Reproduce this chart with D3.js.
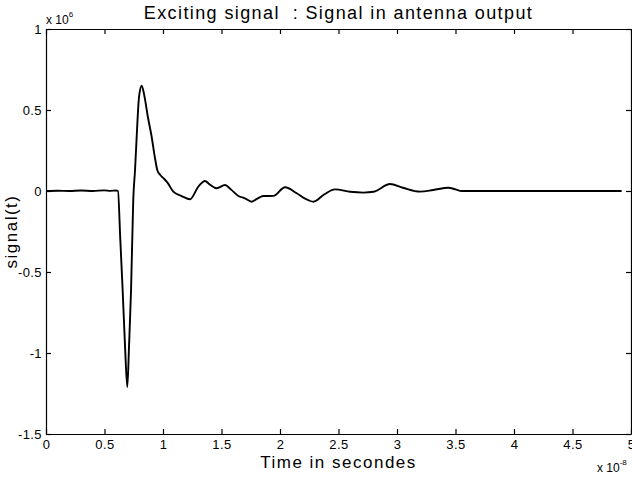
<!DOCTYPE html>
<html>
<head>
<meta charset="utf-8">
<script src="https://cdn.jsdelivr.net/npm/d3@7/dist/d3.min.js"></script>
<style>
  html, body { margin: 0; padding: 0; background: #fff; }
  svg { display: block; }
  text { font-family: Arial, "Liberation Sans", Helvetica, sans-serif; fill: #000; }
</style>
</head>
<body>
<div id="chart"></div>
<script>
// time in units of 1e-8 s, signal in units of 1e6
var timeVals = [0, 0.1, 0.2, 0.3, 0.4, 0.5, 0.55, 0.6, 0.615, 0.635, 0.655, 0.675, 0.695,
    0.71, 0.727, 0.746, 0.761, 0.775, 0.795, 0.818, 0.84, 0.87, 0.903, 0.93, 0.951, 0.975,
    1.003, 1.04, 1.088, 1.16, 1.231, 1.302, 1.359, 1.40, 1.459, 1.53, 1.58, 1.644, 1.70,
    1.758, 1.81, 1.857, 1.943, 2.043, 2.143, 2.21, 2.285, 2.38, 2.47, 2.6, 2.712, 2.8,
    2.94, 3.05, 3.197, 3.31, 3.439, 3.50, 3.553, 4.92];
var signalVals = [0, 0.002, 0, 0.003, 0, 0.004, 0.001, 0.003, 0, -0.3, -0.61, -0.95, -1.21,
    -0.95, -0.61, -0.05, 0.13, 0.335, 0.58, 0.65, 0.59, 0.46, 0.335, 0.21, 0.13, 0.1,
    0.08, 0.05, -0.004, -0.031, -0.051, 0.027, 0.062, 0.04, 0.017, 0.037, 0.01, -0.031, -0.045,
    -0.066, -0.045, -0.031, -0.03, 0.023, -0.014, -0.045, -0.066, -0.02, 0.01, -0.005, -0.01, -0.005,
    0.043, 0.02, -0.004, 0.006, 0.02, 0.01, 0, 0];

var xTicks = [0, 0.5, 1, 1.5, 2, 2.5, 3, 3.5, 4, 4.5, 5];
var yTicks = [1, 0.5, 0, -0.5, -1, -1.5];

var W = 632, H = 478;
var x0 = 46, x1 = 631, y0 = 29, y1 = 434;
var tickLen = 5;

var svg = d3.select('#chart').append('svg')
    .attr('width', W).attr('height', H);

var x = d3.scaleLinear().domain([0, 5]).range([x0, x1]);
var y = d3.scaleLinear().domain([-1.5, 1]).range([y1, y0]);

// ── axes (MATLAB-style box with inward ticks) ──────────────────────────
var fmt = function (d) { return String(d); };

var axBottom = svg.append('g').attr('transform', 'translate(0,' + y1 + ')')
    .call(d3.axisBottom(x).tickValues(xTicks).tickFormat(fmt).tickSizeInner(-tickLen).tickSizeOuter(0).tickPadding(6));
var axTop = svg.append('g').attr('transform', 'translate(0,' + y0 + ')')
    .call(d3.axisTop(x).tickValues(xTicks).tickFormat('').tickSizeInner(-tickLen).tickSizeOuter(0));
var axLeft = svg.append('g').attr('transform', 'translate(' + x0 + ',0)')
    .call(d3.axisLeft(y).tickValues(yTicks).tickFormat(fmt).tickSizeInner(-tickLen).tickSizeOuter(0).tickPadding(4));
var axRight = svg.append('g').attr('transform', 'translate(' + x1 + ',0)')
    .call(d3.axisRight(y).tickValues(yTicks).tickFormat('').tickSizeInner(-tickLen).tickSizeOuter(0));

[axBottom, axTop, axLeft, axRight].forEach(function (g) {
    g.select('.domain').attr('stroke', '#000').attr('stroke-width', 1.2);
    g.selectAll('.tick line').attr('stroke', '#000').attr('stroke-width', 1.2);
    g.selectAll('.tick text')
        .attr('font-family', 'Arial, "Liberation Sans", sans-serif')
        .attr('font-size', '13px').attr('letter-spacing', '0.4px').attr('fill', '#000');
});

// ── signal line ────────────────────────────────────────────────────────
var pts = timeVals.map(function (t, i) { return [t, signalVals[i]]; });
svg.append('path')
    .datum(pts)
    .attr('fill', 'none')
    .attr('stroke', '#000')
    .attr('stroke-width', 1.9)
    .attr('stroke-linejoin', 'round')
    .attr('d', d3.line()
        .x(function (d) { return x(d[0]); })
        .y(function (d) { return y(d[1]); })
        .curve(d3.curveMonotoneX));

// ── labels ─────────────────────────────────────────────────────────────
svg.append('text')
    .attr('x', (x0 + x1) / 2).attr('y', 19)
    .attr('text-anchor', 'middle').attr('font-size', '18px')
    .attr('letter-spacing', '1.4px')
    .attr('xml:space', 'preserve')
    .text('Exciting signal  : Signal in antenna output');

svg.append('text')
    .attr('x', (x0 + x1) / 2).attr('y', 468)
    .attr('text-anchor', 'middle').attr('font-size', '17px')
    .attr('letter-spacing', '1.5px')
    .text('Time in secondes');

svg.append('text')
    .attr('transform', 'translate(17,' + ((y0 + y1) / 2) + ') rotate(-90)')
    .attr('text-anchor', 'middle').attr('font-size', '17px')
    .attr('letter-spacing', '1.5px')
    .text('signal(t)');

// exponent labels
var ey = svg.append('text').attr('x', x0).attr('y', 24).attr('font-size', '12px');
ey.append('tspan').text('x 10');
ey.append('tspan').attr('dy', -7).attr('font-size', '8px').text('6');

var ex = svg.append('text').attr('x', 597).attr('y', 472).attr('font-size', '12px');
ex.append('tspan').text('x 10');
ex.append('tspan').attr('dy', -7).attr('font-size', '8px').text('-8');
</script>
</body>
</html>
